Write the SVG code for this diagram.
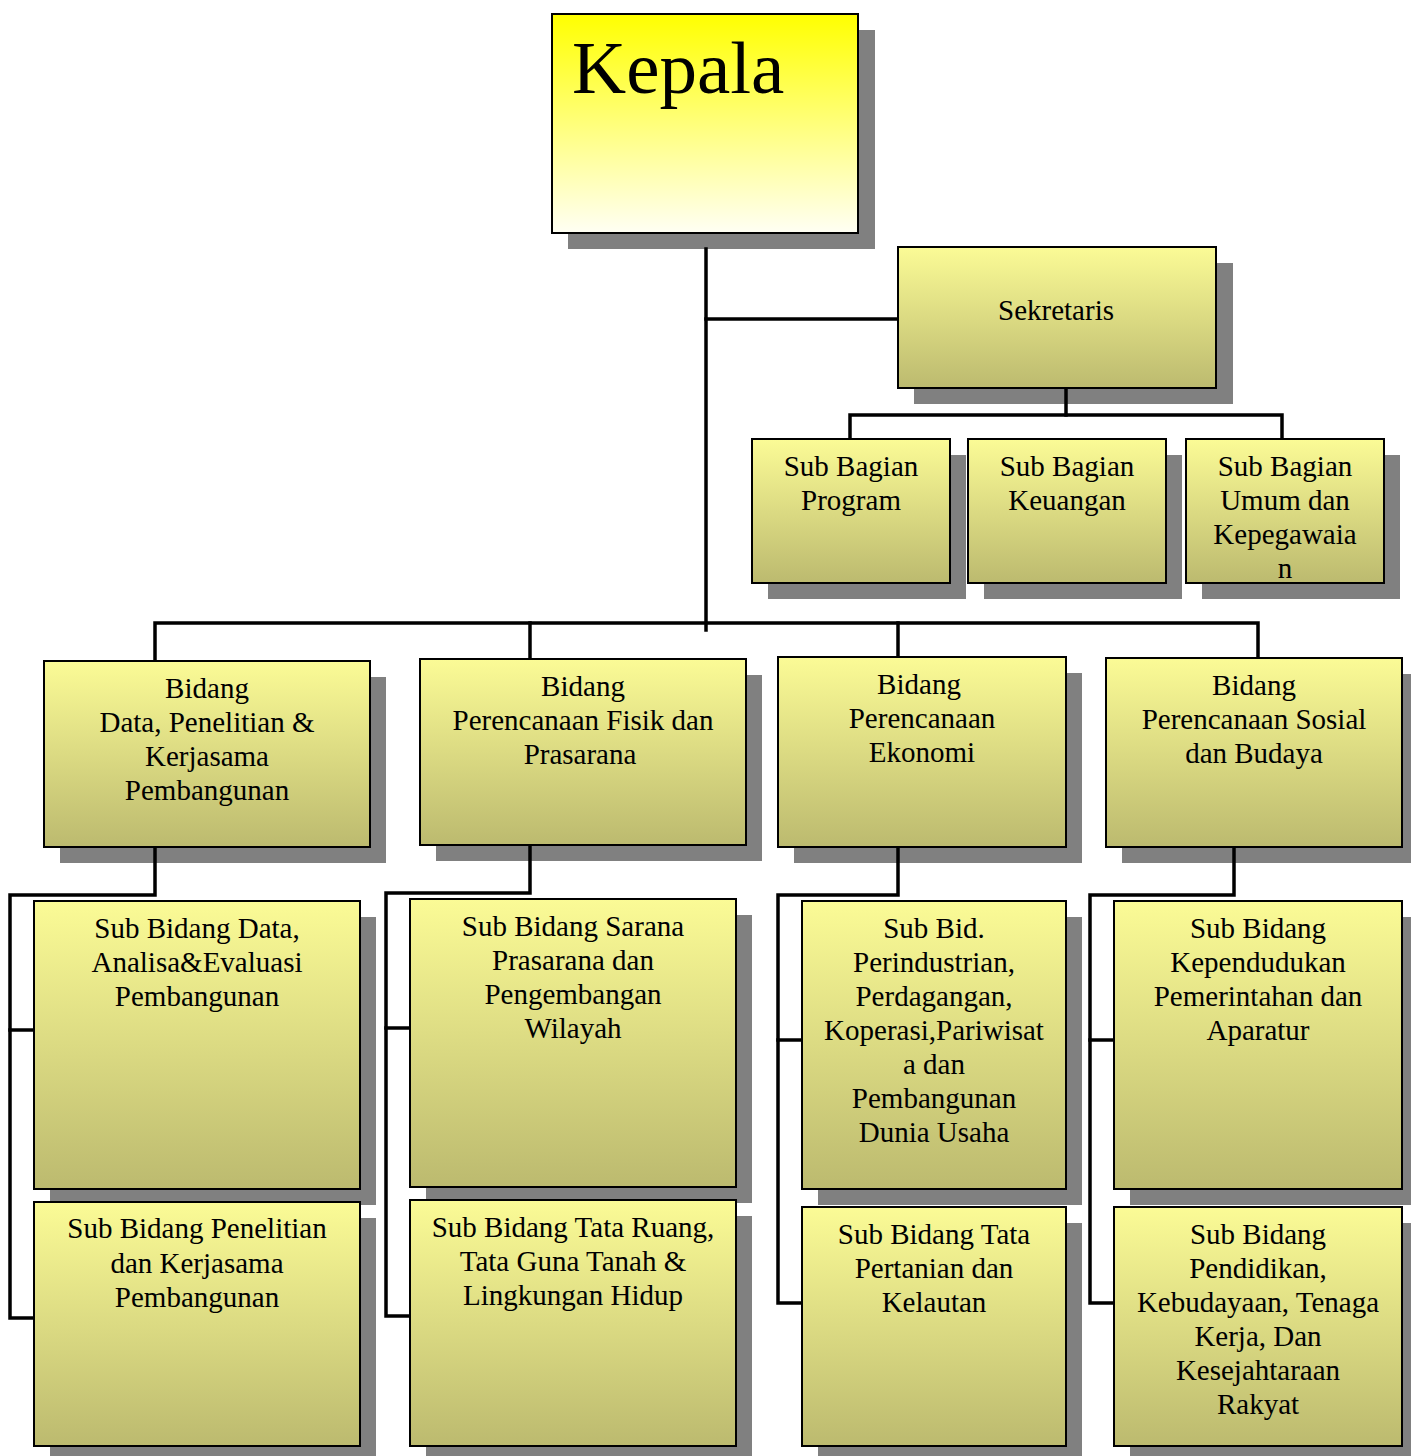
<svg xmlns="http://www.w3.org/2000/svg" width="1411" height="1456" viewBox="0 0 1411 1456">
<defs>
<linearGradient id="gBox" x1="0" y1="0" x2="0" y2="1">
<stop offset="0" stop-color="#FBFB96"/>
<stop offset="1" stop-color="#BCBA6F"/>
</linearGradient>
<linearGradient id="gHead" x1="0" y1="0" x2="0" y2="1">
<stop offset="0" stop-color="#FFFF00"/>
<stop offset="1" stop-color="#FFFFF4"/>
</linearGradient>
<style>
.sh{fill:#808080}
.bx{fill:url(#gBox);stroke:#000;stroke-width:2}
.hd{fill:url(#gHead);stroke:#000;stroke-width:2}
.t{font-family:"Palatino Linotype","Book Antiqua","Liberation Serif",serif;font-size:29px;fill:#000;text-anchor:middle}
.big{font-family:"Palatino Linotype","Book Antiqua","Liberation Serif",serif;font-size:75px;fill:#000}
.cn{fill:none;stroke:#000;stroke-width:3.5;stroke-linejoin:miter;stroke-linecap:square}
</style>
</defs>
<rect width="1411" height="1456" fill="#fff"/>

<g id="shadows">
<rect class="sh" x="568" y="30" width="307" height="219"/>
<rect class="sh" x="914" y="263" width="319" height="141"/>
<rect class="sh" x="768" y="455" width="198" height="144"/>
<rect class="sh" x="984" y="455" width="198" height="144"/>
<rect class="sh" x="1202" y="455" width="198" height="144"/>
<rect class="sh" x="60" y="677" width="326" height="186"/>
<rect class="sh" x="436" y="675" width="326" height="186"/>
<rect class="sh" x="794" y="673" width="288" height="190"/>
<rect class="sh" x="1122" y="674" width="296" height="189"/>
<rect class="sh" x="50" y="917" width="326" height="288"/>
<rect class="sh" x="50" y="1218" width="326" height="250"/>
<rect class="sh" x="426" y="915" width="326" height="288"/>
<rect class="sh" x="426" y="1216" width="326" height="250"/>
<rect class="sh" x="818" y="917" width="264" height="288"/>
<rect class="sh" x="818" y="1223" width="264" height="250"/>
<rect class="sh" x="1130" y="917" width="288" height="288"/>
<rect class="sh" x="1130" y="1223" width="288" height="250"/>
</g>

<g id="connectors">
<path class="cn" d="M706 249 V630"/>
<path class="cn" d="M706 319 H898"/>
<path class="cn" d="M1066 388 V415"/>
<path class="cn" d="M850 439 V415 H1282 V439"/>
<path class="cn" d="M155 661 V623 H1258 V658"/>
<path class="cn" d="M530 623 V659"/>
<path class="cn" d="M898 623 V657"/>
<path class="cn" d="M155 847 V895 H10 V1318 H34"/>
<path class="cn" d="M10 1030 H34"/>
<path class="cn" d="M530 845 V893 H386 V1316 H410"/>
<path class="cn" d="M386 1028 H410"/>
<path class="cn" d="M898 847 V895 H778 V1303 H802"/>
<path class="cn" d="M778 1040 H802"/>
<path class="cn" d="M1234 847 V895 H1090 V1303 H1114"/>
<path class="cn" d="M1090 1040 H1114"/>
</g>

<g id="kepala">
<rect class="hd" x="552" y="14" width="306" height="219"/>
<text class="big" x="572" y="93">Kepala</text>
</g>

<g id="sekretaris">
<rect class="bx" x="898" y="247" width="318" height="141"/>
<text class="t" x="1056" y="320">Sekretaris</text>
</g>

<g id="sub-bagian-program">
<rect class="bx" x="752" y="439" width="198" height="144"/>
<text class="t" x="851" y="476">Sub Bagian</text>
<text class="t" x="851" y="510">Program</text>
</g>

<g id="sub-bagian-keuangan">
<rect class="bx" x="968" y="439" width="198" height="144"/>
<text class="t" x="1067" y="476">Sub Bagian</text>
<text class="t" x="1067" y="510">Keuangan</text>
</g>

<g id="sub-bagian-umum">
<rect class="bx" x="1186" y="439" width="198" height="144"/>
<text class="t" x="1285" y="476">Sub Bagian</text>
<text class="t" x="1285" y="510">Umum dan</text>
<text class="t" x="1285" y="544">Kepegawaia</text>
<text class="t" x="1285" y="578">n</text>
</g>

<g id="bidang-data">
<rect class="bx" x="44" y="661" width="326" height="186"/>
<text class="t" x="207" y="698">Bidang</text>
<text class="t" x="207" y="732">Data, Penelitian &amp;</text>
<text class="t" x="207" y="766">Kerjasama</text>
<text class="t" x="207" y="800">Pembangunan</text>
</g>

<g id="bidang-fisik">
<rect class="bx" x="420" y="659" width="326" height="186"/>
<text class="t" x="583" y="696">Bidang</text>
<text class="t" x="583" y="730">Perencanaan Fisik dan</text>
<text class="t" x="580" y="764">Prasarana</text>
</g>

<g id="bidang-ekonomi">
<rect class="bx" x="778" y="657" width="288" height="190"/>
<text class="t" x="919" y="694">Bidang</text>
<text class="t" x="922" y="728">Perencanaan</text>
<text class="t" x="922" y="762">Ekonomi</text>
</g>

<g id="bidang-sosial">
<rect class="bx" x="1106" y="658" width="296" height="189"/>
<text class="t" x="1254" y="695">Bidang</text>
<text class="t" x="1254" y="729">Perencanaan Sosial</text>
<text class="t" x="1254" y="763">dan Budaya</text>
</g>

<g id="sub-data-analisa">
<rect class="bx" x="34" y="901" width="326" height="288"/>
<text class="t" x="197" y="938">Sub Bidang Data,</text>
<text class="t" x="197" y="972">Analisa&amp;Evaluasi</text>
<text class="t" x="197" y="1006">Pembangunan</text>
</g>

<g id="sub-penelitian">
<rect class="bx" x="34" y="1202" width="326" height="244"/>
<text class="t" x="197" y="1238">Sub Bidang Penelitian</text>
<text class="t" x="197" y="1273">dan Kerjasama</text>
<text class="t" x="197" y="1307">Pembangunan</text>
</g>

<g id="sub-sarana">
<rect class="bx" x="410" y="899" width="326" height="288"/>
<text class="t" x="573" y="936">Sub Bidang Sarana</text>
<text class="t" x="573" y="970">Prasarana dan</text>
<text class="t" x="573" y="1004">Pengembangan</text>
<text class="t" x="573" y="1038">Wilayah</text>
</g>

<g id="sub-tata-ruang">
<rect class="bx" x="410" y="1200" width="326" height="246"/>
<text class="t" x="573" y="1237">Sub Bidang Tata Ruang,</text>
<text class="t" x="573" y="1271">Tata Guna Tanah &amp;</text>
<text class="t" x="573" y="1305">Lingkungan Hidup</text>
</g>

<g id="sub-perindustrian">
<rect class="bx" x="802" y="901" width="264" height="288"/>
<text class="t" x="934" y="938">Sub Bid.</text>
<text class="t" x="934" y="972">Perindustrian,</text>
<text class="t" x="934" y="1006">Perdagangan,</text>
<text class="t" x="934" y="1040">Koperasi,Pariwisat</text>
<text class="t" x="934" y="1074">a dan</text>
<text class="t" x="934" y="1108">Pembangunan</text>
<text class="t" x="934" y="1142">Dunia Usaha</text>
</g>

<g id="sub-pertanian">
<rect class="bx" x="802" y="1207" width="264" height="239"/>
<text class="t" x="934" y="1244">Sub Bidang Tata</text>
<text class="t" x="934" y="1278">Pertanian dan</text>
<text class="t" x="934" y="1312">Kelautan</text>
</g>

<g id="sub-kependudukan">
<rect class="bx" x="1114" y="901" width="288" height="288"/>
<text class="t" x="1258" y="938">Sub Bidang</text>
<text class="t" x="1258" y="972">Kependudukan</text>
<text class="t" x="1258" y="1006">Pemerintahan dan</text>
<text class="t" x="1258" y="1040">Aparatur</text>
</g>

<g id="sub-pendidikan">
<rect class="bx" x="1114" y="1207" width="288" height="239"/>
<text class="t" x="1258" y="1244">Sub Bidang</text>
<text class="t" x="1258" y="1278">Pendidikan,</text>
<text class="t" x="1258" y="1312">Kebudayaan, Tenaga</text>
<text class="t" x="1258" y="1346">Kerja, Dan</text>
<text class="t" x="1258" y="1380">Kesejahtaraan</text>
<text class="t" x="1258" y="1414">Rakyat</text>
</g>
</svg>
